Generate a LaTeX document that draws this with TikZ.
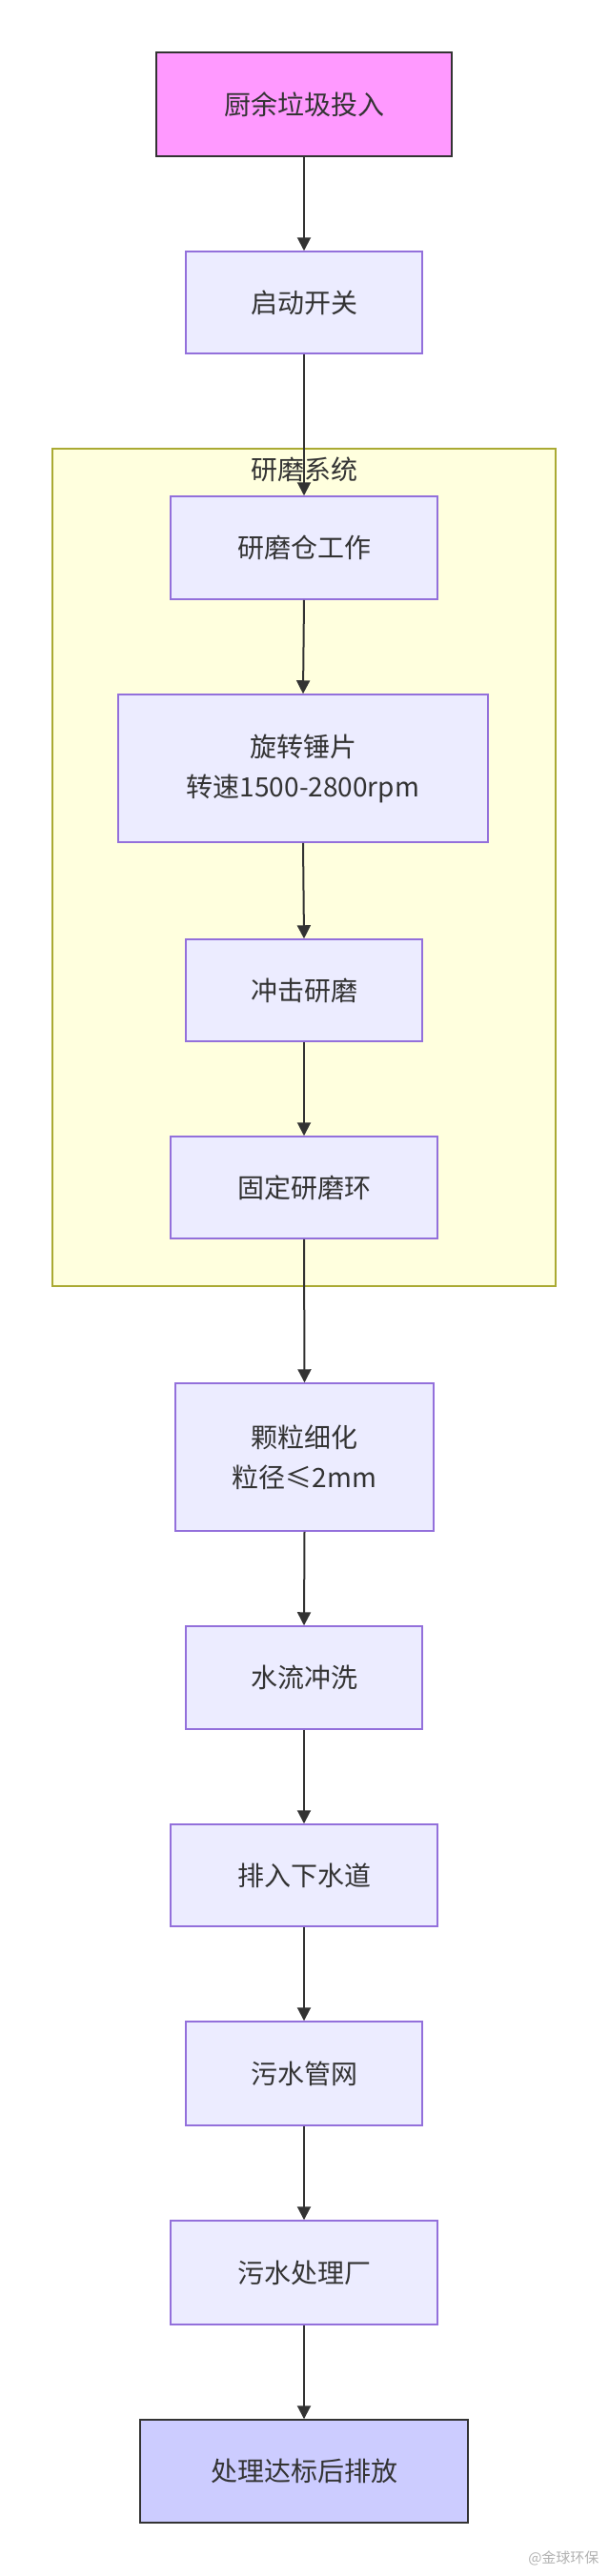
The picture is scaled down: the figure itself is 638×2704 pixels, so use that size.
\documentclass[tikz,border=0pt]{standalone}
\usepackage{fontspec}
\setmainfont{Noto Sans CJK SC}
\usetikzlibrary{arrows.meta}
\definecolor{nfill}{HTML}{ECECFF}
\definecolor{nline}{HTML}{9370DB}
\definecolor{pinkf}{HTML}{FF99FF}
\definecolor{endf}{HTML}{CCCCFF}
\definecolor{grpf}{HTML}{FFFFDE}
\definecolor{grpl}{HTML}{AAAA33}
\definecolor{txt}{HTML}{333333}
\begin{document}
\begin{tikzpicture}[x=1pt,y=-1pt,
  box/.style={draw=nline,fill=nfill,line width=1.5pt,text=txt,font=\fontsize{28}{42}\selectfont,align=center},
  arr/.style={draw=txt,line width=2pt,-{Triangle[length=14pt,width=14pt]}}]
\useasboundingbox (0,0) rectangle (638,2704);
\fill[white] (0,0) rectangle (638,2704);
\draw[fill=grpf,draw=grpl,line width=1.5pt] (55,471) rectangle (583,1350);
\node[text=txt,font=\fontsize{28}{32}\selectfont] (gt) at (319,493) {研磨系统};
\newcommand{\bx}[6]{\node[box,#6,minimum width=#3-#2,minimum height=#5-#4,inner sep=0pt] (#1) at ({(#2+#3)/2},{(#4+#5)/2})}
\bx{a}{164}{474}{55}{164}{fill=pinkf,draw=txt} {厨余垃圾投入};
\bx{b}{195}{443}{264}{371}{} {启动开关};
\bx{c}{179}{459}{521}{629}{} {研磨仓工作};
\bx{d}{124}{512}{729}{884}{} {旋转锤片\\转速1500-2800rpm};
\bx{e}{195}{443}{986}{1093}{} {冲击研磨};
\bx{f}{179}{459}{1193}{1300}{} {固定研磨环};
\bx{g}{184}{455}{1452}{1607}{} {颗粒细化\\粒径≤2mm};
\bx{h}{195}{443}{1707}{1815}{} {水流冲洗};
\bx{i}{179}{459}{1915}{2022}{} {排入下水道};
\bx{j}{195}{443}{2122}{2231}{} {污水管网};
\bx{k}{179}{459}{2331}{2440}{} {污水处理厂};
\bx{l}{147}{491}{2540}{2648}{fill=endf,draw=txt} {处理达标后排放};
\foreach \p/\q in {a/b,b/c,c/d,d/e,e/f,f/g,g/h,h/i,i/j,j/k,k/l}
  \draw[arr] (\p.south) -- (\q.north);
\node[text=gray!60,font=\fontsize{15}{17}\selectfont,anchor=east] (wm) at (632,2685) {@金球环保};
\end{tikzpicture}
\end{document}
